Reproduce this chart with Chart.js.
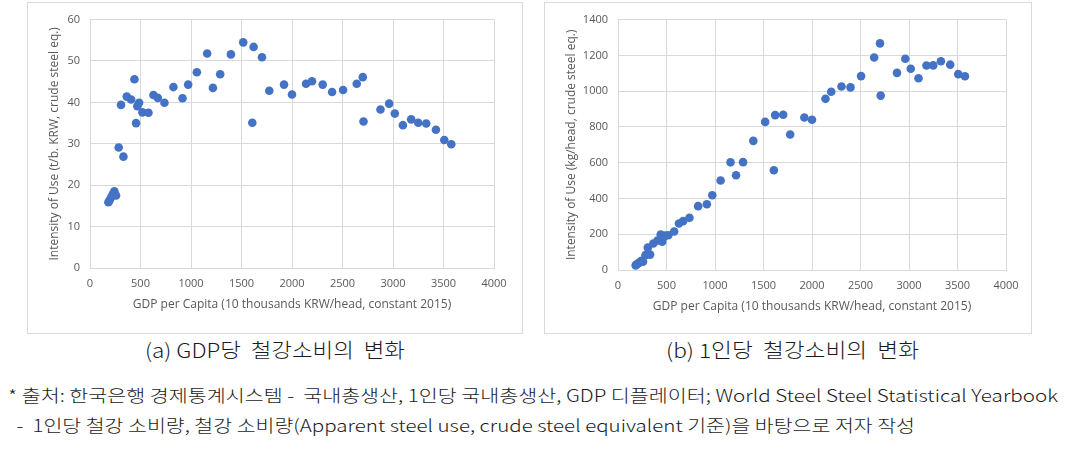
<!DOCTYPE html>
<html>
<head>
<meta charset="utf-8">
<script src="https://cdn.jsdelivr.net/npm/chart.js@4.4.0/dist/chart.umd.min.js"></script>
<style>
  body { margin: 0; width: 1072px; height: 453px; background: #fff; position: relative; overflow: hidden; }
  .box { position: absolute; border: 1px solid #d9d9d9; background: #fff; }
  .box canvas { position: absolute; left: 0; top: 0; }
  .line { position: absolute; white-space: pre; font-family: "Noto Sans CJK KR", "Noto Sans", sans-serif; font-weight: 300; color: #1a1a1a; transform-origin: 0 50%; }
  .cap { font-size: 20px; line-height: 22px; }
  .foot { font-size: 17px; line-height: 20px; }
</style>
</head>
<body>
<div class="box" id="boxA" style="left:27px; top:2px; width:494px; height:330px;"><canvas id="chartA" width="494" height="330"></canvas></div>
<div class="box" id="boxB" style="left:544px; top:2px; width:486px; height:330px;"><canvas id="chartB" width="486" height="330"></canvas></div>

<div class="line cap" data-w="260" style="left:145px; top:339px;">(a) GDP당  철강소비의  변화</div>
<div class="line cap" data-w="253" style="left:666px; top:339px;">(b) 1인당  철강소비의  변화</div>
<div class="line foot" data-w="1050" style="left:8px; top:385px;">* 출처: 한국은행 경제통계시스템 -  국내총생산, 1인당 국내총생산, GDP 디플레이터; World Steel Steel Statistical Yearbook</div>
<div class="line foot" data-w="903" style="left:12px; top:415px;"> -  1인당 철강 소비량, 철강 소비량(Apparent steel use, crude steel equivalent 기준)을 바탕으로 저자 작성</div>

<script>
// ===== DONNÉES =====
const gdpPerCapita = [182, 195, 210, 225, 241, 258, 284, 307, 331, 364, 407, 440, 456, 469, 486, 519, 579,
  628, 671, 737, 826, 916, 972, 1058, 1160, 1217, 1289, 1395, 1517, 1607, 1620, 1703, 1775,
  1921, 2000, 2139, 2198, 2304, 2397, 2506, 2641, 2701, 2708, 2876, 2962, 3018, 3098, 3180,
  3250, 3329, 3425, 3508, 3577]
const intensityPerGdp = [15.9, 16.4, 17.1, 17.8, 18.5, 17.5, 29.1, 39.4, 26.9, 41.4, 40.7, 45.6, 35.0, 39.1, 39.9, 37.6, 37.5,
  41.8, 41.1, 39.9, 43.7, 41.0, 44.3, 47.3, 51.8, 43.5, 46.8, 51.6, 54.5, 35.1, 53.4, 50.9, 42.8,
  44.3, 41.9, 44.5, 45.1, 44.3, 42.5, 43.0, 44.5, 46.1, 35.4, 38.3, 39.7, 37.3, 34.5, 35.9,
  35.1, 34.9, 33.4, 30.9, 29.9]
const steelPerHead = [26, 32, 38, 44, 52, 47, 83, 125, 86, 148, 165, 198, 158, 182, 192, 194, 215,
  260, 273, 292, 357, 368, 418, 500, 602, 530, 603, 722, 828, 558, 866, 868, 758,
  853, 840, 957, 997, 1026, 1021, 1084, 1188, 1267, 975, 1102, 1181, 1125, 1072, 1143,
  1144, 1167, 1148, 1095, 1083]

const xTitle = 'GDP per Capita (10 thousands KRW/head, constant 2015)'
const yTitleA = 'Intensity of Use (t/b. KRW, crude steel eq.)'
const yTitleB = 'Intensity of Use (kg/head, crude steel eq.)'

const blue = '#4472C4'
const gridColor = '#d9d9d9'
const textColor = '#595959'
const tickFont = { family: '"Open Sans", sans-serif', size: 11 }
const titleFont = { family: '"Open Sans", sans-serif', size: 12 }

// ===== GRAPHIQUES =====
function makeChart(id, ys, yMax, yStep, yTitle, opt) {
  const points = gdpPerCapita.map((x, i) => ({ x: x, y: ys[i] }))
  return new Chart(document.getElementById(id), {
    type: 'scatter',
    data: {
      datasets: [{
        data: points,
        backgroundColor: blue,
        borderColor: blue,
        borderWidth: 0,
        pointRadius: 4.3,
      }],
    },
    options: {
      responsive: false,
      animation: false,
      devicePixelRatio: 1,
      layout: { padding: { left: 0, right: opt.right, top: opt.top, bottom: 0 } },
      plugins: { legend: { display: false }, tooltip: { enabled: false } },
      scales: {
        x: {
          type: 'linear',
          min: 0,
          max: 4000,
          ticks: { stepSize: 500, color: textColor, font: tickFont, padding: 9, maxRotation: 0, callback: (v) => String(v) },
          grid: { color: gridColor, drawTicks: false },
          border: { color: gridColor },
          title: { display: true, text: xTitle, color: textColor, font: titleFont, padding: { top: 0, bottom: opt.xTitleBottom } },
          afterFit: (s) => { s.height = opt.xHeight },
        },
        y: {
          min: 0,
          max: yMax,
          ticks: { stepSize: yStep, color: textColor, font: tickFont, padding: 10, callback: (v) => String(v) },
          grid: { color: gridColor, drawTicks: false },
          border: { color: gridColor },
          title: { display: true, text: yTitle, color: textColor, font: titleFont, padding: { top: opt.yTitleTop, bottom: 0 } },
          afterFit: (s) => { s.width = opt.yWidth },
        },
      },
    },
  })
}

makeChart('chartA', intensityPerGdp, 60, 10, yTitleA,
  { right: 28, top: 15, yWidth: 62, xHeight: 65, xTitleBottom: 21, yTitleTop: 19 })
makeChart('chartB', steelPerHead, 1400, 200, yTitleB,
  { right: 25, top: 13, yWidth: 73, xHeight: 63, xTitleBottom: 19, yTitleTop: 19 })

// ===== TEXTES =====
document.fonts.ready.then(() => {
  document.querySelectorAll('.line').forEach((el) => {
    const w = el.getBoundingClientRect().width
    const target = +el.getAttribute('data-w')
    el.style.transform = 'scaleX(' + (target / w) + ')'
  })
})
</script>
</body>
</html>
